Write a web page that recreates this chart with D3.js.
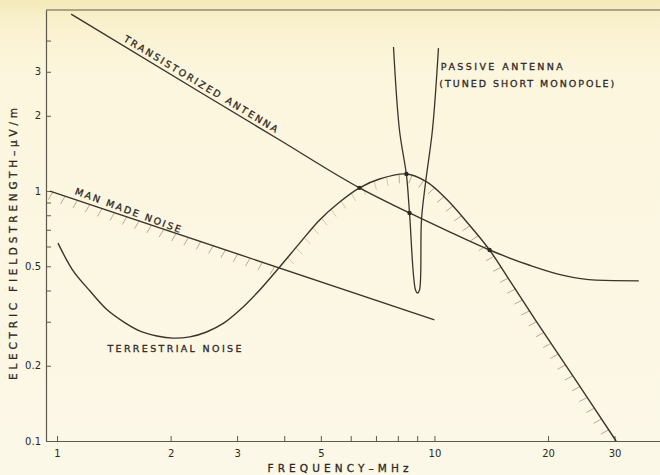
<!DOCTYPE html>
<html>
<head>
<meta charset="utf-8">
<script src="https://cdn.jsdelivr.net/npm/d3@7"></script>
<style>
  html, body { margin: 0; padding: 0; background: #fcf7e4; }
  svg { display: block; }
  text { font-family: "DejaVu Sans", "Liberation Sans", sans-serif; fill: #2e281f; }
  .lettering { stroke: #2e281f; stroke-width: 0.3; }
</style>
</head>
<body>
<svg id="chart" width="660" height="475"></svg>
<script>
// Readings: [frequency in MHz, field strength in µV/m]
const transistorizedAntenna = [
  [1.09, 5.1], [2.39, 2.49], [3.89, 1.6], [6.33, 1.03], [8.59, 0.817],
  [11.0, 0.685], [14.0, 0.581], [17.8, 0.506], [21.8, 0.461], [26.8, 0.44], [34.8, 0.437]
];
const manMadeNoise = [[0.958, 1.0], [10.0, 0.305]];
const terrestrialNoise = [
  [1.006, 0.619], [1.10, 0.483], [1.223, 0.398], [1.36, 0.334], [1.504, 0.299],
  [1.66, 0.275], [1.839, 0.263], [2.03, 0.258], [2.248, 0.261], [2.49, 0.273],
  [2.765, 0.296], [3.05, 0.334], [3.444, 0.402], [3.89, 0.497], [4.395, 0.619],
  [4.964, 0.766], [5.61, 0.904], [6.33, 1.03], [7.15, 1.117], [8.43, 1.17],
  [9.52, 1.09], [10.76, 0.929], [12.38, 0.731], [14.0, 0.581], [15.79, 0.441],
  [18.6, 0.302], [23.75, 0.174], [30.3, 0.1]
];
const passiveAntenna = [
  [7.79, 3.77], [8.08, 1.75], [8.43, 1.16], [8.59, 0.817], [8.91, 0.402],
  [9.02, 0.391], [9.13, 0.402], [9.24, 0.766], [9.47, 1.076], [9.88, 1.754], [10.25, 3.73]
];
// Points where the curves cross
const junctions = [[6.33, 1.03], [8.43, 1.17], [8.59, 0.817], [14.0, 0.581]];

const xTickValues = [1, 2, 3, 4, 5, 6, 7, 8, 9, 10, 20, 30];
const xTickLabels = ["1", "2", "3", "", "5", "", "", "", "", "10", "20", "30"];
const yTickValues = [0.1, 0.2, 0.3, 0.4, 0.5, 0.6, 0.7, 0.8, 0.9, 1, 2, 3, 4];
const yTickLabels = ["0.1", "0.2", "", "", "0.5", "", "", "", "", "1", "2", "3", ""];

const xDomain = [0.935, 39.6];
const yDomain = [0.1, 5.3];

const svg = d3.select("#chart");
const W = 660, H = 475;
const plotLeft = 46, plotRight = 660, plotTop = 10, plotBottom = 441;

// paper background
const defs = svg.append("defs");
const grad = defs.append("linearGradient").attr("id", "paper")
  .attr("x1", 0).attr("y1", 0).attr("x2", 0).attr("y2", 1);
[["0%", "#f5e9b8"], ["4%", "#f9f0cc"], ["15%", "#fcf6de"], ["100%", "#fcf8e8"]]
  .forEach(([o, c]) => grad.append("stop").attr("offset", o).attr("stop-color", c));
svg.append("rect").attr("width", W).attr("height", H).attr("fill", "url(#paper)");

const x = d3.scaleLog().domain(xDomain).range([plotLeft, plotRight]);
const y = d3.scaleLog().domain(yDomain).range([plotBottom, plotTop]);

const axisColor = "#5f584c";

// axes
const xAxis = d3.axisBottom(x).tickValues(xTickValues)
  .tickFormat((d, i) => xTickLabels[i]).tickSizeInner(-5).tickSizeOuter(0).tickPadding(9);
const gx = svg.append("g").attr("transform", `translate(0,${plotBottom})`).call(xAxis);
const yAxis = d3.axisLeft(y).tickValues(yTickValues)
  .tickFormat((d, i) => yTickLabels[i]).tickSizeInner(-5).tickSizeOuter(0).tickPadding(5);
const gy = svg.append("g").attr("transform", `translate(${plotLeft},0)`).call(yAxis);
[gx, gy].forEach(g => {
  g.select(".domain").attr("stroke", axisColor).attr("stroke-width", 1.2);
  g.selectAll(".tick line").attr("stroke", axisColor).attr("stroke-width", 1);
  g.selectAll(".tick text").attr("font-size", 10).attr("fill", "#4a4336")
    .attr("font-family", "\"DejaVu Sans\", sans-serif");
});
// top border of the frame
svg.append("line").attr("x1", plotLeft).attr("x2", plotRight).attr("y1", plotTop).attr("y2", plotTop)
  .attr("stroke", axisColor).attr("stroke-width", 1.2);

// curves
const curveColor = "#3a342b";
const monotone = d3.line().x(d => x(d[0])).y(d => y(d[1])).curve(d3.curveMonotoneX);
const smooth = d3.line().x(d => x(d[0])).y(d => y(d[1])).curve(d3.curveCatmullRom.alpha(0.5));
const straight = d3.line().x(d => x(d[0])).y(d => y(d[1]));

const curves = svg.append("g").attr("fill", "none").attr("stroke", curveColor)
  .attr("stroke-width", 1.4).attr("stroke-linejoin", "round");
const pTrans = curves.append("path").attr("d", monotone(transistorizedAntenna));
const pMan = curves.append("path").attr("d", straight(manMadeNoise));
const pTerr = curves.append("path").attr("d", smooth(terrestrialNoise));
const pPass = curves.append("path").attr("d", smooth(passiveAntenna)).attr("stroke-width", 1.3);

// sampled lookups along a rendered path (y at a given pixel x)
function lookup(node) {
  const total = node.getTotalLength();
  const pts = [];
  for (let s = 0; s <= total; s += 0.5) pts.push(node.getPointAtLength(s));
  return {
    x0: pts[0].x, x1: pts[pts.length - 1].x,
    yAt(px) {
      let best = pts[0], bd = Infinity;
      for (const p of pts) { const d = Math.abs(p.x - px); if (d < bd) { bd = d; best = p; } }
      return best.y;
    }
  };
}
const manLU = lookup(pMan.node());
const terrLU = lookup(pTerr.node());
const transLU = lookup(pTrans.node());

// hatching on the underside of the upper noise envelope
function hatches(node, keep, spacing, len, tilt) {
  const total = node.getTotalLength();
  const out = [];
  for (let s = 3; s < total - 2; s += spacing) {
    const p = node.getPointAtLength(s);
    if (!keep(p)) continue;
    const a = node.getPointAtLength(Math.max(0, s - 1.5));
    const b = node.getPointAtLength(Math.min(total, s + 1.5));
    let tx = b.x - a.x, ty = b.y - a.y;
    const n = Math.hypot(tx, ty); tx /= n; ty /= n;
    const nx = -ty, ny = tx;                      // normal towards the lower side
    const c = Math.cos(tilt), si = Math.sin(tilt);
    const rx = nx * c - tx * si, ry = ny * c - ty * si; // lean slightly backwards
    out.push({ x1: p.x, y1: p.y, x2: p.x + rx * len, y2: p.y + ry * len, rising: ty < -0.2 });
  }
  return out;
}
const hatchData = [
  ...hatches(pMan.node(), p => p.x < terrLU.x0 || p.y <= terrLU.yAt(p.x), 13, 9, 0.2),
  ...hatches(pTerr.node(), p => p.x > manLU.x1 || p.y < manLU.yAt(p.x) - 0.5, 13, 9, 0.1)
];
svg.append("g").selectAll("line").data(hatchData).join("line")
  .attr("x1", d => d.x1).attr("y1", d => d.y1).attr("x2", d => d.x2).attr("y2", d => d.y2)
  .attr("stroke", d => d.rising ? "#dbc6ae" : "#c4a68b").attr("stroke-width", 1);

// curves sit above the hatching
svg.node().appendChild(curves.node());

// crossing dots
svg.append("g").selectAll("circle").data(junctions).join("circle")
  .attr("cx", d => x(d[0])).attr("cy", d => y(d[1])).attr("r", 2.2).attr("fill", "#2d2820");

// labels
function labelAlong(lu, f, text, lift, width, extraDeg) {
  const px = x(f), py = lu.yAt(px);
  const ang = Math.atan2(lu.yAt(px + 6) - lu.yAt(px - 6), 12) * 180 / Math.PI + (extraDeg || 0);
  svg.append("g").attr("transform", `translate(${px},${py}) rotate(${ang})`)
    .append("text").attr("class", "lettering").attr("x", 0).attr("y", -lift)
    .attr("font-size", 9.5).attr("textLength", width).attr("lengthAdjust", "spacing")
    .text(text);
}
labelAlong(transLU, 1.477, "TRANSISTORIZED ANTENNA", 4, 178, 0);
labelAlong(manLU, 1.10, "MAN MADE NOISE", 5, 112, 2);

function label(f, v, text, width, size, anchor) {
  svg.append("text").attr("class", "lettering").attr("x", x(f)).attr("y", y(v))
    .attr("font-size", size).attr("textLength", width).attr("lengthAdjust", "spacing")
    .attr("text-anchor", anchor || "start").text(text);
}
label(1.36, 0.227, "TERRESTRIAL NOISE", 134, 9.5);
label(10.4, 3.05, "PASSIVE ANTENNA", 122, 9.5);
label(10.3, 2.6, "(TUNED SHORT MONOPOLE)", 175, 9.5);

// axis titles
svg.append("text").attr("class", "lettering").attr("x", 338).attr("y", 472).attr("text-anchor", "middle")
  .attr("font-size", 10.5).attr("textLength", 141).attr("lengthAdjust", "spacing")
  .text("FREQUENCY–MHz");
svg.append("text").attr("class", "lettering").attr("transform", "translate(17,244) rotate(-90)")
  .attr("text-anchor", "middle")
  .attr("font-size", 10.5).attr("textLength", 272).attr("lengthAdjust", "spacing")
  .text("ELECTRIC FIELDSTRENGTH–µV/m");
</script>
</body>
</html>
